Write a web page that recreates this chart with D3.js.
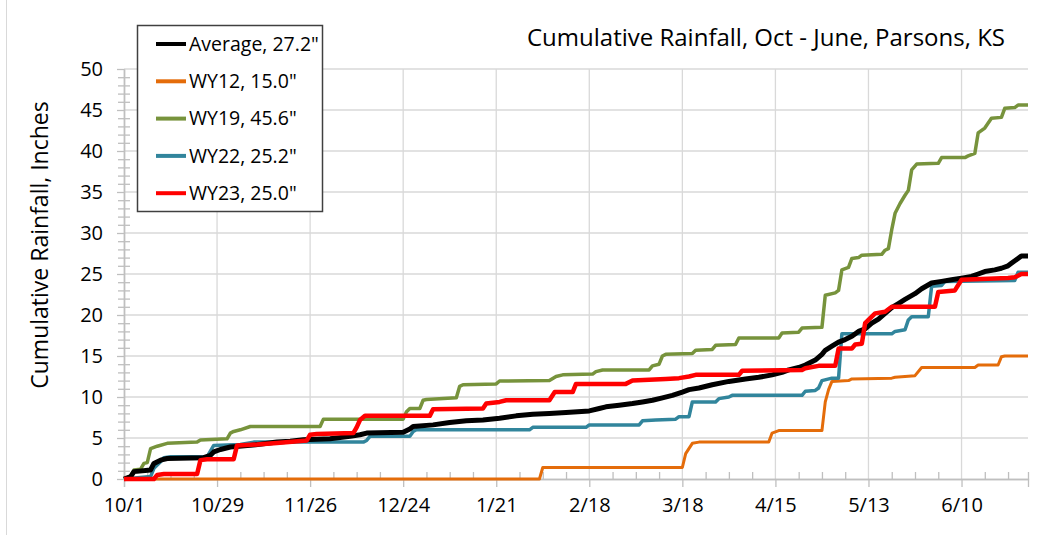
<!DOCTYPE html>
<html>
<head>
<meta charset="utf-8">
<script src="https://cdn.jsdelivr.net/npm/d3@7"></script>
<style>
  body { margin: 0; background: #fff; }
  text { font-family: "Open Sans", sans-serif; fill: #000; }
</style>
</head>
<body>
<div id="chart"></div>
<script>
// days since 10/1, cumulative inches
const avg = [[0,0],[2,0.3],[3,0.9],[8,1.1],[9,1.9],[11,2.3],[13,2.5],[24,2.6],[26,2.9],[27,3.3],[29,3.6],[32,3.9],[38,4.1],[42,4.3],[46,4.5],[50,4.6],[54,4.8],[62,4.9],[68,5.2],[71,5.4],[73,5.6],[84,5.7],[86,6.1],[87,6.4],[93,6.6],[98,6.9],[103,7.1],[108,7.2],[113,7.4],[118,7.7],[123,7.9],[128,8.0],[133,8.1],[140,8.3],[143,8.6],[145,8.8],[149,9.0],[153,9.2],[156,9.4],[159,9.6],[162,9.9],[165,10.2],[168,10.6],[170,10.9],[173,11.1],[177,11.5],[182,11.9],[187,12.2],[191,12.4],[195,12.7],[198,13.0],[200,13.3],[203,13.6],[205,13.9],[208,14.5],[210,15.2],[211,15.7],[213,16.2],[215,16.7],[217,17.0],[219,17.4],[221,18.0],[223,18.3],[225,19.0],[227,19.5],[229,20.2],[231,20.9],[233,21.4],[235,21.9],[238,22.6],[240,23.2],[243,23.9],[246,24.1],[249,24.3],[252,24.5],[255,24.7],[257,25.0],[259,25.3],[262,25.5],[264,25.7],[266,26.0],[267,26.3],[269,26.9],[270,27.2],[272,27.2]];
const wy12 = [[0,0],[125,0],[126,1.4],[168,1.4],[169,3.1],[171,4.35],[173,4.5],[194,4.5],[195,5.6],[197,5.9],[210,5.9],[211,9.4],[212,10.9],[213,11.9],[218,12.0],[219,12.2],[231,12.3],[232,12.4],[238,12.6],[240,13.6],[256,13.6],[257,13.9],[263,13.9],[264,14.9],[265,15.0],[272,15.0]];
const wy19 = [[0,0],[2,0.3],[3,1.1],[5,1.2],[6,1.9],[7,2.0],[8,3.7],[10,4.0],[13,4.35],[22,4.5],[23,4.75],[31,4.9],[32,5.6],[33,5.8],[35,6.0],[38,6.4],[59,6.4],[60,7.3],[84,7.3],[85,8.2],[86,8.6],[89,8.6],[90,9.6],[91,9.7],[100,9.9],[101,11.3],[102,11.5],[112,11.6],[113,11.95],[128,12.0],[130,12.5],[132,12.7],[141,12.8],[142,13.1],[144,13.3],[158,13.3],[159,13.8],[161,14.0],[162,15.0],[163,15.2],[171,15.3],[172,15.7],[177,15.8],[178,16.3],[184,16.4],[185,17.2],[197,17.2],[198,17.8],[203,17.9],[204,18.4],[210,18.5],[211,22.4],[214,22.7],[215,23.0],[216,25.5],[218,25.8],[219,26.9],[221,27.0],[222,27.3],[228,27.4],[229,27.9],[230,28.1],[231,30.4],[232,32.4],[233.5,33.6],[235,34.6],[236,35.2],[237,37.7],[238.5,38.4],[245,38.5],[246,39.2],[253,39.2],[254,39.4],[256,39.7],[257,42.2],[259,42.8],[261,44.0],[264,44.1],[265,45.2],[268,45.3],[269,45.6],[272,45.6]];
const wy22 = [[0,0],[8,0.3],[9,1.3],[11,2.1],[12,2.6],[14,2.7],[25,2.7],[26,3.4],[27,4.1],[35,4.2],[39,4.5],[72,4.5],[73,4.7],[74,5.2],[86,5.2],[87,5.8],[88,6.0],[122,6.0],[123,6.3],[139,6.3],[140,6.6],[155,6.6],[156,7.1],[160,7.2],[166,7.3],[167,7.6],[170,7.6],[171,9.4],[178,9.4],[179,9.8],[182,10.0],[183,10.2],[204,10.2],[205,10.7],[208,10.8],[209,11.1],[210,12.0],[213,12.3],[215,12.3],[216,17.7],[231,17.7],[232,18.0],[235,18.2],[236,19.4],[237,19.8],[242,19.8],[243,23.5],[246,23.6],[247,24.1],[268,24.2],[269,25.2],[272,25.2]];
const wy23 = [[0,0],[9,0],[10,0.5],[12,0.6],[22,0.6],[23,2.3],[25,2.4],[33,2.4],[34,4.1],[40,4.2],[46,4.4],[55,4.7],[56,5.4],[58,5.5],[69,5.6],[70,6.3],[71,7.2],[72.5,7.7],[92,7.7],[93,8.5],[108,8.6],[109,9.2],[113,9.4],[115,9.6],[128,9.6],[129.6,10.6],[135,10.6],[136,11.6],[151,11.6],[153,12.0],[163,12.2],[167,12.3],[170,12.5],[172,12.7],[185,12.7],[186,13.2],[204,13.3],[205,13.5],[209,13.8],[214,13.8],[215,15.9],[219,15.9],[220,16.4],[222,16.5],[223,19.0],[224,19.4],[226,20.2],[229,20.4],[231,21.0],[244,21.0],[245,22.8],[250,23.0],[252,24.3],[258,24.4],[266,24.5],[268,24.6],[270,25.0],[272,25.0]];

const xTickDays = [0, 28, 56, 84, 112, 140, 168, 196, 224, 252];
const xTickLabels = ["10/1", "10/29", "11/26", "12/24", "1/21", "2/18", "3/18", "4/15", "5/13", "6/10"];
const yTicks = [0, 5, 10, 15, 20, 25, 30, 35, 40, 45, 50];

const series = [
  { name: 'Average, 27.2"', data: avg, color: "#000000", w: 5 },
  { name: 'WY12, 15.0"', data: wy12, color: "#E46C0A", w: 3 },
  { name: 'WY19, 45.6"', data: wy19, color: "#77933C", w: 3.5 },
  { name: 'WY22, 25.2"', data: wy22, color: "#31859C", w: 3.5 },
  { name: 'WY23, 25.0"', data: wy23, color: "#FF0000", w: 4.5 },
];
const drawOrder = [1, 2, 3, 0, 4];

const width = 1045;
const height = 537;
const plot = { left: 124, right: 1028, top: 69, bottom: 479 };

const svg = d3
  .select("#chart")
  .append("svg")
  .attr("width", width)
  .attr("height", height);

// chart frame edge
svg.append("line")
  .attr("x1", 6.5).attr("x2", 6.5).attr("y1", 0).attr("y2", 535)
  .attr("stroke", "#d9d9d9").attr("stroke-width", 1);

const x = d3.scaleLinear().domain([0, 272]).range([plot.left, plot.right]);
const y = d3.scaleLinear().domain([0, 50]).range([plot.bottom, plot.top]);

// gridlines
const grid = svg.append("g").attr("stroke", "#d9d9d9").attr("stroke-width", 1.3);
grid.selectAll("line.h")
  .data(yTicks.filter((d) => d > 0))
  .enter().append("line")
  .attr("x1", plot.left).attr("x2", plot.right)
  .attr("y1", (d) => y(d)).attr("y2", (d) => y(d));
grid.selectAll("line.v")
  .data(xTickDays.filter((d) => d > 0))
  .enter().append("line")
  .attr("x1", (d) => x(d)).attr("x2", (d) => x(d))
  .attr("y1", plot.top).attr("y2", plot.bottom);

// axes
function styleAxis(g) {
  g.select(".domain").attr("stroke", "#bfbfbf").attr("stroke-width", 1.3);
  g.selectAll(".tick line").attr("stroke", "#bfbfbf").attr("stroke-width", 1.3);
  g.selectAll(".tick text").style("font-family", '"Open Sans", sans-serif').attr("fill", "#000");
}

const minorX = d3.range(7, 273, 7).filter((d) => d % 28 !== 0);
svg.append("g")
  .attr("transform", `translate(0,${plot.bottom})`)
  .call(d3.axisBottom(x).tickValues(minorX).tickSize(-7).tickFormat(""))
  .call(styleAxis);
svg.append("g")
  .attr("transform", `translate(0,${plot.bottom})`)
  .call(d3.axisBottom(x).tickValues(xTickDays).tickSize(8).tickPadding(11)
    .tickFormat((d, i) => xTickLabels[i]))
  .call(styleAxis)
  .call((g) => g.selectAll(".tick text").style("font-size", "20px"));

const minorY = d3.range(1, 50).filter((d) => d % 5 !== 0);
svg.append("g")
  .attr("transform", `translate(${plot.left},0)`)
  .call(d3.axisLeft(y).tickValues(minorY).tickSize(6).tickFormat("").tickSizeOuter(0))
  .call(styleAxis);
svg.append("g")
  .attr("transform", `translate(${plot.left},0)`)
  .call(d3.axisRight(y).tickValues(minorY).tickSize(6).tickFormat("").tickSizeOuter(0))
  .call(styleAxis);
svg.append("g")
  .attr("transform", `translate(${plot.left},0)`)
  .call(d3.axisLeft(y).tickValues(yTicks).tickSize(7).tickPadding(14).tickSizeOuter(0))
  .call(styleAxis)
  .call((g) => g.selectAll(".tick text").style("font-size", "20px"));

// lines
const line = d3.line().x((d) => x(d[0])).y((d) => y(d[1]));
svg.append("g")
  .selectAll("path")
  .data(drawOrder.map((i) => series[i]))
  .enter().append("path")
  .attr("fill", "none")
  .attr("stroke", (d) => d.color)
  .attr("stroke-width", (d) => d.w)
  .attr("stroke-linejoin", "round")
  .attr("d", (d) => line(d.data));

// legend
const legend = svg.append("g");
legend.append("rect")
  .attr("x", 137.5).attr("y", 25.5).attr("width", 185).attr("height", 186)
  .attr("fill", "#fff").attr("stroke", "#404040").attr("stroke-width", 1.5);
const item = legend.selectAll("g.item")
  .data(series)
  .enter().append("g")
  .attr("transform", (d, i) => `translate(0,${44 + i * 37.3})`);
item.append("line")
  .attr("x1", 156).attr("x2", 186)
  .attr("stroke", (d) => d.color).attr("stroke-width", 4);
item.append("text")
  .attr("x", 189).attr("dy", "0.35em")
  .style("font-size", "19.5px")
  .text((d) => d.name);

// titles
svg.append("text")
  .attr("transform", "translate(40,245) rotate(-90)")
  .attr("text-anchor", "middle")
  .attr("dy", "0.35em")
  .style("font-size", "23px")
  .text("Cumulative Rainfall, Inches");

svg.append("text")
  .attr("x", 1005).attr("y", 46)
  .attr("text-anchor", "end")
  .style("font-size", "24px")
  .text("Cumulative Rainfall, Oct - June, Parsons, KS");
</script>
</body>
</html>
